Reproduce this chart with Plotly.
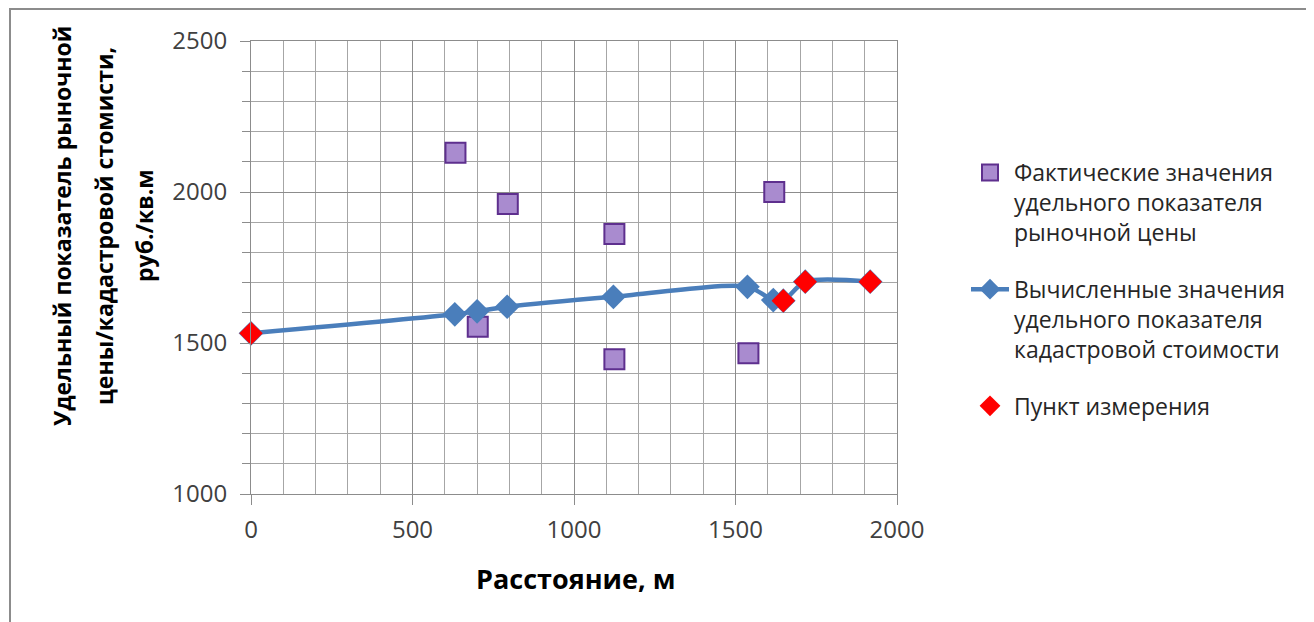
import plotly.graph_objects as go

# Actual market price values (purple squares)
fact_x = [633, 795, 1125, 702, 1125, 1620, 1540]
fact_y = [2130, 1960, 1861, 1554, 1446, 2000, 1466]

# Calculated cadastral values (blue line with diamonds)
calc_x = [0, 631, 700, 793, 1122, 1537, 1617, 1648, 1716, 1917]
calc_y = [1532, 1595, 1605, 1620, 1653, 1686, 1642, 1640, 1703, 1703]

# Measurement points (red diamonds)
meas_x = [0, 1648, 1716, 1917]
meas_y = [1532, 1640, 1703, 1703]

name_fact = "Фактические значения<br>удельного показателя<br>рыночной цены"
name_calc = "Вычисленные значения<br>удельного показателя<br>кадастровой стоимости"
name_meas = "Пункт измерения"

y_title_lines = ["Удельный показатель рыночной",
                 "цены/кадастровой стомисти,",
                 "руб./кв.м"]
x_title = "Расстояние, м"

FONT = "Open Sans"
OFF = 8  # page body margin
W, H = 1306, 614
L, R, T, B = 243, 417, 33, 128
pw, ph = W - L - R, H - T - B


def px_x(p):
    return (p - OFF - L) / pw


def px_y(p):
    return (H - B - (p - OFF)) / ph


fig = go.Figure()
fig.add_trace(go.Scatter(
    x=fact_x, y=fact_y, mode="markers", name=name_fact, legendgroup="a",
    marker=dict(symbol="square", size=20, color="#A98BCF",
                line=dict(color="#5E2F8E", width=2)),
))
fig.add_trace(go.Scatter(
    x=calc_x, y=calc_y, mode="lines+markers", name=name_calc, legendgroup="b",
    line=dict(color="#4A7EBB", width=4.5, shape="spline", smoothing=0.8),
    marker=dict(symbol="diamond", size=19, color="#4A7EBB"),
    cliponaxis=False,
))
fig.add_trace(go.Scatter(
    x=meas_x, y=meas_y, mode="markers", name=name_meas, legendgroup="c",
    marker=dict(symbol="diamond", size=18, color="#FF0000"),
    cliponaxis=False,
))

grid_col = "#8C8C8C"
fig.update_xaxes(
    range=[0, 2000], tickvals=[0, 500, 1000, 1500, 2000], showgrid=True,
    gridcolor=grid_col, gridwidth=1, zeroline=False,
    showline=True, linecolor=grid_col, linewidth=1, mirror=True,
    ticks="outside", ticklen=10, tickcolor=grid_col, ticklabelstandoff=4,
    minor=dict(dtick=100, showgrid=True, gridcolor="#A6A6A6", gridwidth=1),
    tickfont=dict(family=FONT, size=24, color="#404040"),
)
fig.update_yaxes(
    range=[1000, 2500], tickvals=[1000, 1500, 2000, 2500], showgrid=True,
    gridcolor=grid_col, gridwidth=1, zeroline=False,
    showline=True, linecolor=grid_col, linewidth=1, mirror=True,
    ticks="outside", ticklen=10, tickcolor=grid_col, ticklabelstandoff=8,
    minor=dict(dtick=100, showgrid=True, gridcolor="#A6A6A6", gridwidth=1,
               ticks="outside", ticklen=8, tickcolor=grid_col),
    tickfont=dict(family=FONT, size=24, color="#404040"),
)

for line_text, cx in zip(y_title_lines, [62, 104, 144]):
    fig.add_annotation(text="<b>" + line_text + "</b>", xref="paper", yref="paper",
                       x=px_x(cx), y=px_y(226), xanchor="center", yanchor="middle",
                       textangle=-90, showarrow=False,
                       font=dict(family=FONT, size=23, color="#000000"))
fig.add_annotation(text="<b>" + x_title + "</b>", xref="paper", yref="paper",
                   x=px_x(575), y=px_y(578), xanchor="center", yanchor="middle",
                   showarrow=False,
                   font=dict(family=FONT, size=27, color="#000000"))

fig.add_shape(type="rect", xref="paper", yref="paper",
              x0=px_x(10), x1=px_x(1309), y0=px_y(640), y1=px_y(9),
              line=dict(color="#8C8C8C", width=2), layer="above")

fig.update_layout(
    width=W, height=H, margin=dict(l=L, r=R, t=T, b=B, autoexpand=False),
    paper_bgcolor="white", plot_bgcolor="white",
    font=dict(family=FONT, color="#222222"),
    legend=dict(x=px_x(966), y=px_y(151), xanchor="left", yanchor="top",
                font=dict(family=FONT, size=23, color="#262626"),
                traceorder="grouped", tracegroupgap=24, valign="top",
                itemwidth=38, bgcolor="rgba(0,0,0,0)"),
)

fig.write_html("out.html")
